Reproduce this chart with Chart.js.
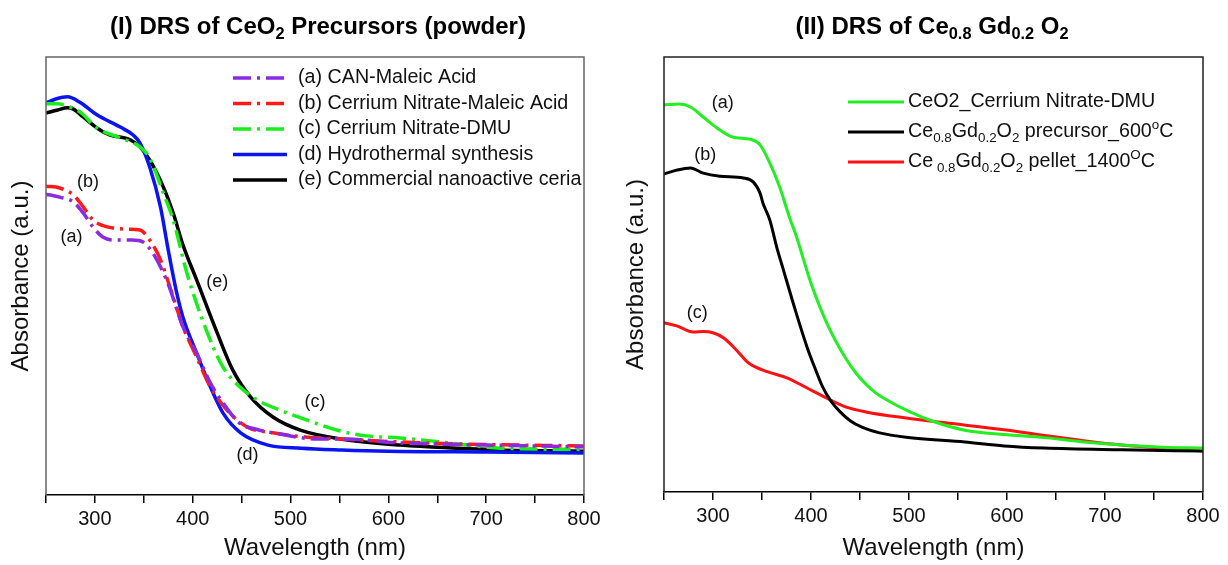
<!DOCTYPE html>
<html>
<head>
<meta charset="utf-8">
<script src="https://cdn.jsdelivr.net/npm/chart.js@4.4.1/dist/chart.umd.min.js"></script>
<style>
  body { margin: 0; background: #fff; }
  .box { position: absolute; top: 0; width: 614px; height: 565px; }
</style>
</head>
<body>
<div class="box" style="left:0"><canvas id="drsI"></canvas></div>
<div class="box" style="left:614px"><canvas id="drsII"></canvas></div>
<script>
// ---- (I) CeO2 precursors, absorbance in arbitrary units (0-100 of the frame)
var wlA  = [250, 264, 278, 288, 298, 308, 322, 338, 349, 359, 370, 376, 390, 404, 418, 431, 448, 465, 482, 527, 551, 612, 700, 800];
var absA = [68.7, 68.0, 66.9, 64.4, 61.2, 58.9, 58.2, 58.2, 57.8, 55.3, 50.7, 47.5, 38.4, 32.4, 25.6, 21.0, 16.4, 15.0, 14.2, 12.8, 12.8, 11.9, 11.4, 11.0];

var wlB  = [250, 264, 278, 288, 298, 313, 333, 346, 356, 367, 380, 390, 404, 418, 435, 456, 482, 517, 551, 612, 681, 800];
var absB = [70.5, 70.1, 68.5, 65.8, 62.8, 61.2, 60.7, 60.5, 58.2, 53.7, 45.2, 38.4, 31.5, 24.7, 19.4, 15.5, 14.2, 13.2, 12.8, 12.1, 11.6, 11.2];

var wlC  = [250, 261, 272, 285, 302, 326, 346, 356, 370, 380, 394, 415, 431, 448, 466, 489, 517, 551, 578, 612, 646, 681, 714, 800];
var absC = [89.3, 89.3, 88.8, 87.4, 83.8, 81.5, 79.5, 76.9, 68.9, 62.8, 50.7, 37.0, 29.2, 24.7, 21.7, 19.4, 17.1, 14.6, 13.5, 13.0, 12.3, 11.4, 10.7, 10.4];

var wlD  = [250, 260, 272, 285, 302, 326, 339, 346, 356, 367, 375, 383, 390, 404, 418, 431, 449, 477, 511, 552, 600, 700, 800];
var absD = [89.5, 90.4, 90.9, 89.6, 86.8, 84.0, 82.2, 80.4, 74.9, 65.8, 55.9, 46.8, 40.6, 32.4, 24.7, 18.7, 14.2, 11.4, 10.7, 10.3, 10.0, 9.8, 9.6];

var wlE  = [250, 262, 272, 278, 288, 302, 315, 336, 346, 356, 370, 380, 390, 404, 425, 441, 459, 482, 510, 551, 612, 714, 800];
var absE = [87.2, 87.9, 88.4, 88.1, 86.3, 83.8, 82.2, 81.1, 79.5, 76.5, 70.3, 64.4, 57.1, 49.1, 37.0, 28.5, 22.4, 17.8, 14.8, 12.8, 11.4, 10.3, 10.0];

var legendI = ['(a) CAN-Maleic Acid', '(b) Cerrium Nitrate-Maleic Acid', '(c) Cerrium Nitrate-DMU',
               '(d) Hydrothermal synthesis', '(e) Commercial nanoactive ceria'];
var noteTextI = ['(b)', '(a)', '(e)', '(c)', '(d)'];
var noteWlI   = [293, 276, 425, 525, 456];
var noteAbsI  = [71.5, 58.9, 48.6, 21.2, 9.1];

// ---- (II) Ce0.8Gd0.2O2
var wlG  = [250, 266, 277, 290, 304, 320, 338, 348, 358, 368, 379, 384, 400, 416, 436, 446, 456, 466, 477, 501, 525, 557, 597, 638, 678, 717, 758, 800];
var absG = [89.0, 89.2, 88.5, 86.2, 83.7, 81.6, 81.1, 79.8, 75.6, 70.1, 62.5, 59.5, 48.0, 38.9, 30.5, 27.3, 24.8, 22.8, 21.2, 18.4, 16.2, 14.2, 13.2, 12.5, 11.5, 10.8, 10.3, 10.1];

var wlK  = [250, 263, 277, 290, 307, 331, 341, 348, 351, 358, 365, 371, 384, 396, 404, 412, 420, 429, 440, 452, 470, 497, 557, 597, 638, 717, 800];
var absK = [73.1, 74.0, 74.5, 73.3, 72.6, 72.2, 71.3, 68.7, 66.4, 62.5, 56.3, 51.7, 41.8, 33.3, 28.5, 24.1, 21.0, 18.6, 16.4, 14.9, 13.6, 12.6, 11.5, 10.6, 10.1, 9.7, 9.4];

var wlR  = [250, 263, 280, 290, 300, 311, 324, 336, 356, 376, 396, 416, 436, 456, 497, 537, 597, 638, 678, 717, 758, 800];
var absR = [38.9, 38.2, 36.8, 36.9, 36.6, 35.4, 32.6, 29.7, 27.6, 26.2, 23.9, 21.6, 19.5, 18.4, 17.0, 15.9, 14.3, 13.0, 11.8, 10.8, 10.1, 9.4];

var noteTextII = ['(a)', '(b)', '(c)'];
var noteWlII   = [310, 292, 284];
var noteAbsII  = [89.4, 77.5, 41.1];

var FONT = "'Liberation Sans', Arial, sans-serif";

function pts(wl, ab) {
  return wl.map(function (w, i) { return { x: w, y: ab[i] }; });
}

// text with sub (-1) / superscript (1) pieces
function drawRich(ctx, parts, x, y, size, weight, align) {
  var w = 0;
  parts.forEach(function (p) {
    ctx.font = weight + ' ' + (p[1] ? size * 0.68 : size) + 'px ' + FONT;
    w += ctx.measureText(p[0]).width;
  });
  var cx = align === 'center' ? x - w / 2 : x;
  ctx.textBaseline = 'middle';
  ctx.textAlign = 'left';
  parts.forEach(function (p) {
    var s = p[1] ? size * 0.68 : size;
    var dy = p[1] === -1 ? size * 0.32 : (p[1] === 1 ? -size * 0.36 : 0);
    ctx.font = weight + ' ' + s + 'px ' + FONT;
    ctx.fillText(p[0], cx, y + dy);
    cx += ctx.measureText(p[0]).width;
  });
}

var decor = {
  id: 'decor',
  afterDraw: function (chart, args, o) {
    var ctx = chart.ctx, a = chart.chartArea;
    ctx.save();
    ctx.strokeStyle = o.frameColor;
    ctx.lineWidth = 1.5;
    ctx.beginPath();
    ctx.moveTo(a.left, a.bottom);
    ctx.lineTo(a.left, a.top);
    ctx.lineTo(a.right, a.top);
    ctx.lineTo(a.right, a.bottom);
    ctx.stroke();

    ctx.fillStyle = '#000';
    drawRich(ctx, o.title, o.titleX, o.titleY, 24, 'bold', 'center');

    chart.data.datasets.forEach(function (ds, i) {
      var y = o.legendTop + i * o.legendGap;
      ctx.strokeStyle = ds.borderColor;
      ctx.lineWidth = ds.borderWidth;
      ctx.setLineDash(ds.borderDash || []);
      ctx.beginPath();
      ctx.moveTo(o.legendX, y);
      ctx.lineTo(o.legendX + o.legendLen, y);
      ctx.stroke();
      ctx.setLineDash([]);
      ctx.fillStyle = '#111';
      var parts = typeof o.legend[i] === 'string' ? [[o.legend[i], 0]] : o.legend[i];
      drawRich(ctx, parts, o.legendX + o.legendLen + o.legendPad, y, 19.7, '', 'left');
    });

    var sx = chart.scales.x, sy = chart.scales.y;
    ctx.fillStyle = '#111';
    o.notes.forEach(function (t, i) {
      drawRich(ctx, [[t, 0]], sx.getPixelForValue(o.noteWl[i]), sy.getPixelForValue(o.noteAbs[i]), 18, '', 'center');
    });
    ctx.restore();
  }
};

function line(label, wl, ab, color, dash, width) {
  return {
    label: label, data: pts(wl, ab), showLine: true,
    borderColor: color, backgroundColor: color, borderWidth: width,
    borderDash: dash, pointRadius: 0, cubicInterpolationMode: 'monotone'
  };
}

function options(cfg) {
  return {
    responsive: true, maintainAspectRatio: false, animation: false, events: [],
    layout: { padding: { top: 57, right: cfg.padRight, left: 0, bottom: 0 } },
    scales: {
      x: {
        type: 'linear', min: 250, max: 800,
        afterFit: function (s) { s.height = cfg.xHeight; },
        ticks: {
          stepSize: 50, color: '#111', padding: 4, maxRotation: 0, autoSkip: false,
          font: { family: FONT, size: 20 },
          callback: function (v) { return v % 100 === 0 ? v : ''; }
        },
        grid: { drawOnChartArea: false, drawTicks: true, tickLength: 8, color: '#000', lineWidth: 1.5 },
        border: { display: true, color: '#000', width: 1.5 },
        title: { display: true, text: 'Wavelength (nm)', color: '#111', padding: { top: 0, bottom: 2 },
                 font: { family: FONT, size: 24 } }
      },
      y: {
        min: 0, max: 100,
        afterFit: function (s) { s.width = cfg.yWidth; },
        ticks: { display: false },
        grid: { display: false },
        border: { display: false },
        title: { display: true, text: 'Absorbance (a.u.)', color: '#111', padding: { top: cfg.yPad, bottom: 0 },
                 font: { family: FONT, size: 24 } }
      }
    },
    plugins: {
      legend: { display: false },
      tooltip: { enabled: false },
      decor: cfg.decor
    }
  };
}

var dashDot = [18, 6, 3, 6];

new Chart(document.getElementById('drsI'), {
  type: 'scatter',
  data: {
    datasets: [
      line(legendI[0], wlA, absA, '#8a2be2', dashDot, 3.5),
      line(legendI[1], wlB, absB, '#ff1a1a', dashDot, 3.5),
      line(legendI[2], wlC, absC, '#1aee1a', dashDot, 3.5),
      line(legendI[3], wlD, absD, '#0a14f0', [], 3.5),
      line(legendI[4], wlE, absE, '#000000', [], 3.5)
    ]
  },
  options: options({
    padRight: 30, xHeight: 70, yWidth: 46, yPad: 7,
    decor: {
      frameColor: '#666',
      title: [['(I) DRS of CeO', 0], ['2', -1], [' Precursors (powder)', 0]],
      titleX: 318, titleY: 27,
      legend: legendI, legendX: 233, legendLen: 54, legendPad: 11, legendTop: 78, legendGap: 25.5,
      notes: noteTextI, noteWl: noteWlI, noteAbs: noteAbsI
    }
  }),
  plugins: [decor]
});

var legendII = [
  'CeO2_Cerrium Nitrate-DMU',
  [['Ce', 0], ['0.8', -1], ['Gd', 0], ['0.2', -1], ['O', 0], ['2', -1], [' precursor_600', 0], ['o', 1], ['C', 0]],
  [['Ce', 0], [' 0.8', -1], ['Gd', 0], ['0.2', -1], ['O', 0], ['2', -1], [' pellet_1400', 0], ['O', 1], ['C', 0]]
];

new Chart(document.getElementById('drsII'), {
  type: 'scatter',
  data: {
    datasets: [
      line('CeO2_Cerrium Nitrate-DMU', wlG, absG, '#22ee22', [], 3),
      line('Ce0.8Gd0.2O2 precursor_600oC', wlK, absK, '#000000', [], 3),
      line('Ce0.8Gd0.2O2 pellet_1400OC', wlR, absR, '#ff1111', [], 3)
    ]
  },
  options: options({
    padRight: 25, xHeight: 73, yWidth: 50, yPad: 8,
    decor: {
      frameColor: '#222',
      title: [['(II) DRS of Ce', 0], ['0.8', -1], [' Gd', 0], ['0.2', -1], [' O', 0], ['2', -1]],
      titleX: 318, titleY: 27,
      legend: legendII, legendX: 234, legendLen: 56, legendPad: 4, legendTop: 102, legendGap: 30,
      notes: noteTextII, noteWl: noteWlII, noteAbs: noteAbsII
    }
  }),
  plugins: [decor]
});
</script>
</body>
</html>
